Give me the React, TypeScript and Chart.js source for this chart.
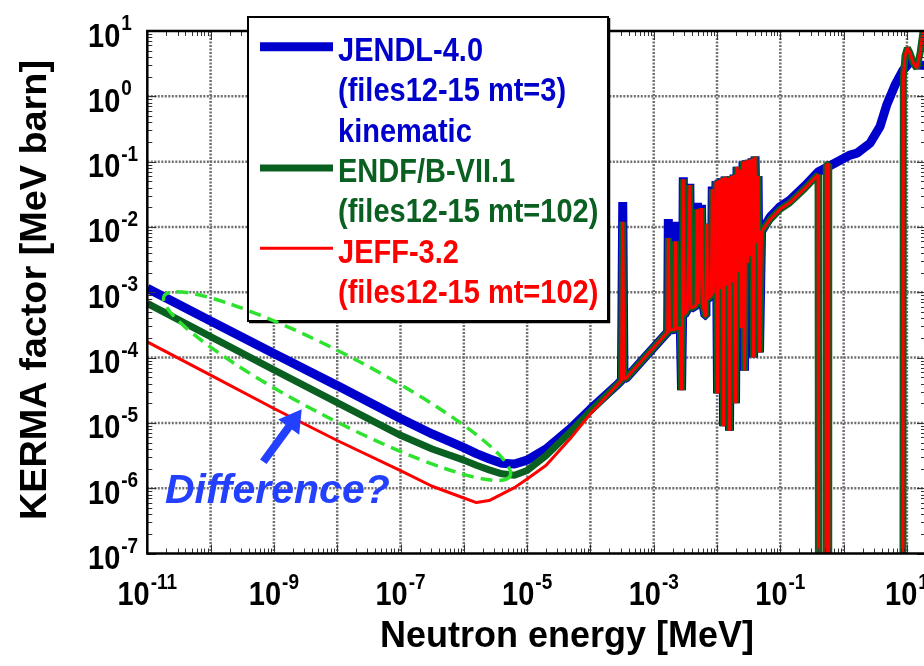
import React, { useEffect, useRef } from 'react';
import { Chart, registerables } from 'chart.js';

Chart.register(...registerables);

// ---------------- DATA ----------------
// Thermal / epithermal region (shared energy grid, MeV)
const thermalEnergy = [1e-11, 1e-10, 1e-9, 1e-8, 1e-7, 3.16e-7, 1e-6, 1.58e-6, 2.51e-6, 3.98e-6, 6.31e-6, 1e-5, 2e-5, 4.8e-5, 1e-4];
const jendlThermal = [1.15e-3, 3.63e-4, 1.15e-4, 3.72e-5, 1.17e-5, 6.76e-6, 4.17e-6, 3.39e-6, 2.82e-6, 2.40e-6, 2.34e-6, 2.69e-6, 3.98e-6, 8.13e-6, 1.62e-5];
const endfThermal = [6.76e-4, 2.09e-4, 6.46e-5, 2.04e-5, 6.46e-6, 3.98e-6, 2.69e-6, 2.24e-6, 1.91e-6, 1.66e-6, 1.58e-6, 1.86e-6, 3.16e-6, 7.24e-6, 1.51e-5];
const jeffThermal = [1.74e-4, 5.37e-5, 1.66e-5, 5.37e-6, 1.86e-6, 1.07e-6, 7.08e-7, 6.03e-7, 6.46e-7, 8.13e-7, 1.02e-6, 1.38e-6, 2.24e-6, 5.75e-6, 1.38e-5];

// Resonance region (shared energy grid, MeV)
const resonanceEnergy = [
  2.75e-4, 3.09e-4, 3.24e-4, 3.39e-4, 3.72e-4, 1.58e-3, 1.66e-3, 1.70e-3, 1.78e-3, 2.14e-3,
  2.21e-3, 2.29e-3, 2.63e-3, 2.75e-3, 2.85e-3, 2.93e-3, 3.02e-3, 3.39e-3, 3.72e-3, 3.85e-3,
  4.68e-3, 4.90e-3, 5.13e-3, 5.69e-3, 5.96e-3, 6.46e-3, 6.68e-3, 6.92e-3, 7.16e-3, 8.13e-3,
  8.41e-3, 8.71e-3, 9.64e-3, 1.019e-2, 1.076e-2, 1.135e-2, 1.20e-2, 1.268e-2, 1.337e-2, 1.413e-2,
  1.493e-2, 1.574e-2, 1.663e-2, 1.758e-2, 1.858e-2, 1.959e-2, 2.07e-2, 2.188e-2, 2.307e-2, 2.438e-2,
  2.576e-2, 2.716e-2, 2.871e-2, 3.034e-2, 3.199e-2, 3.381e-2, 3.573e-2, 3.776e-2, 3.981e-2, 4.207e-2,
  4.446e-2, 4.69e-2, 5.05e-2, 6.87e-2, 9.89e-2, 0.141, 0.245, 0.394,
];
const jendlResonance = [
  3.98e-5, 4.47e-5, 2.40e-2, 4.68e-5, 4.90e-5, 2.34e-4, 2.45e-4, 1.32e-2, 2.63e-4, 2.69e-4,
  1.20e-2, 2.75e-4, 2.88e-4, 3.16e-5, 3.55e-4, 5.75e-2, 4.47e-4, 5.37e-4, 4.57e-2, 5.62e-4,
  6.31e-4, 2.34e-2, 6.61e-4, 2.19e-2, 6.76e-4, 4.37e-4, 7.59e-4, 1.12e-2, 7.94e-4, 8.91e-4,
  4.17e-2, 9.55e-4, 5.01e-2, 2.82e-5, 5.25e-2, 1.12e-3, 5.62e-2, 8.91e-6, 5.89e-2, 1.26e-3,
  5.62e-2, 7.59e-6, 6.03e-2, 1.41e-3, 6.31e-2, 2.0e-5, 8.32e-2, 2.0e-3, 7.59e-2, 2.82e-4,
  0.100, 6.31e-5, 0.105, 2.82e-3, 0.107, 3.55e-3, 0.112, 1.0e-4, 0.120, 5.62e-3,
  6.03e-2, 1.20e-4, 8.51e-3, 1.41e-2, 2.04e-2, 2.57e-2, 4.27e-2, 6.92e-2,
];
const captureResonance = [
  3.98e-5, 4.47e-5, 1.20e-2, 4.68e-5, 4.90e-5, 2.34e-4, 2.45e-4, 6.76e-3, 2.63e-4, 2.69e-4,
  6.03e-3, 2.75e-4, 2.88e-4, 3.16e-5, 3.55e-4, 5.37e-2, 4.47e-4, 5.37e-4, 4.37e-2, 5.62e-4,
  6.31e-4, 1.86e-2, 6.61e-4, 1.95e-2, 6.76e-4, 4.37e-4, 7.59e-4, 1.12e-2, 7.94e-4, 8.91e-4,
  3.80e-2, 9.55e-4, 5.01e-2, 2.82e-5, 5.25e-2, 1.12e-3, 5.62e-2, 8.91e-6, 5.89e-2, 1.26e-3,
  5.62e-2, 7.59e-6, 6.03e-2, 1.41e-3, 6.31e-2, 2.0e-5, 8.32e-2, 2.0e-3, 7.59e-2, 2.82e-4,
  0.100, 6.31e-5, 0.105, 2.82e-3, 0.107, 3.55e-3, 0.112, 1.0e-4, 0.120, 5.62e-3,
  6.03e-2, 1.20e-4, 8.51e-3, 1.29e-2, 1.86e-2, 2.34e-2, 3.89e-2, 6.31e-2,
];

// Fast region
const jendlFastEnergy = [0.733, 1.26, 1.63, 2.61, 3.75, 4.84, 6.47, 8.67, 11.6, 15.0, 20];
const jendlFast = [9.55e-2, 0.126, 0.135, 0.191, 0.343, 0.759, 1.48, 2.51, 3.47, 3.02, 2.95];
const captureFastEnergy = [0.403, 0.525, 0.531, 0.575, 0.582, 8.61, 8.77, 9.33, 10.14, 11.2, 12.6, 14.3, 16.1, 17.8, 20];
const captureFast = [1e-10, 1e-10, 9.0e-2, 9.1e-2, 1e-10, 1e-10, 2.0, 4.17, 5.5, 4.57, 3.24, 2.69, 4.57, 9.33, 12.6];

const X_LABEL_EXPONENTS = [-11, -9, -7, -5, -3, -1, 1];
const Y_LABEL_EXPONENTS = [1, 0, -1, -2, -3, -4, -5, -6, -7];

const X_TITLE = 'Neutron energy [MeV]';
const Y_TITLE = 'KERMA factor [MeV barn]';
const LEGEND_LINES = [
  { text: 'JENDL-4.0', series: 0 },
  { text: '(files12-15 mt=3)', series: 0 },
  { text: 'kinematic', series: 0 },
  { text: 'ENDF/B-VII.1', series: 1 },
  { text: '(files12-15 mt=102)', series: 1 },
  { text: 'JEFF-3.2', series: 2 },
  { text: '(files12-15 mt=102)', series: 2 },
];
const ANNOTATION_TEXT = 'Difference?';

// annotation anchors in data space [energy, kerma]
const ELLIPSE_END_A = [1.84e-11, 8.75e-4];
const ELLIPSE_END_B = [5.37e-6, 1.53e-6];
const ARROW_TAIL = [6.8e-10, 2.54e-6];
const ARROW_TIP = [2.75e-9, 1.61e-5];
const TEXT_ANCHOR = [1.9e-11, 5.9e-7];

// ---------------- STYLE ----------------
const FONT = "'Liberation Sans', Arial, Helvetica, sans-serif";
const BLUE = '#0000cc';
const GREEN = '#0a6020';
const RED = '#ff0000';
const NOTE_BLUE = '#2340ff';
const NOTE_GREEN = '#2fe22f';
const GRID = '#707070';

const pts = (e: number[], k: number[]) => e.map((v, i) => ({ x: v, y: k[i] }));

function fillStretched(ctx: any, text: string, x: number, y: number, sx: number, sy: number) {
  ctx.save();
  ctx.translate(x, y);
  ctx.scale(sx, sy);
  ctx.fillText(text, 0, 0);
  ctx.restore();
}

function drawPower(ctx: any, exp: number, x: number, baseY: number, center: boolean) {
  ctx.textAlign = 'left';
  ctx.textBaseline = 'alphabetic';
  ctx.fillStyle = '#000';
  ctx.font = `bold 29px ${FONT}`;
  const wBase = ctx.measureText('10').width;
  ctx.font = `bold 19px ${FONT}`;
  const sup = String(exp);
  const wSup = ctx.measureText(sup).width;
  const left = center ? x - (wBase + 1 + wSup) / 2 : x;
  ctx.font = `bold 29px ${FONT}`;
  fillStretched(ctx, '10', left, baseY, 1, 1.15);
  ctx.font = `bold 19px ${FONT}`;
  fillStretched(ctx, sup, left + wBase + 1, baseY - 16.5, 1, 1.15);
}

const gridPlugin = {
  id: 'decadeGrid',
  beforeDatasetsDraw(chart: any) {
    const { ctx, chartArea: a, scales } = chart;
    const xs = scales.x;
    const ys = scales.y;
    ctx.save();
    ctx.strokeStyle = GRID;
    ctx.lineWidth = 2.5;
    ctx.setLineDash([2, 1.5]);
    for (let d = -10; d <= 1; d++) {
      const px = xs.getPixelForValue(Math.pow(10, d));
      ctx.beginPath();
      ctx.moveTo(px, a.top);
      ctx.lineTo(px, a.bottom);
      ctx.stroke();
    }
    for (let d = -6; d <= 0; d++) {
      const py = ys.getPixelForValue(Math.pow(10, d));
      ctx.beginPath();
      ctx.moveTo(a.left, py);
      ctx.lineTo(a.right, py);
      ctx.stroke();
    }
    ctx.restore();
  },
};

const decorPlugin = {
  id: 'decor',
  afterDatasetsDraw(chart: any) {
    const { ctx, chartArea: a, scales } = chart;
    const xs = scales.x;
    const ys = scales.y;
    const P = (p: number[]) => ({ x: xs.getPixelForValue(p[0]), y: ys.getPixelForValue(p[1]) });
    ctx.save();

    // ticks (inward)
    ctx.strokeStyle = '#333';
    ctx.lineWidth = 1;
    ctx.setLineDash([]);
    for (let d = -11; d <= 1; d++) {
      for (let m = 1; m <= 9; m++) {
        const v = m * Math.pow(10, d);
        if (v < 1e-11 || v > 20) continue;
        const px = Math.round(xs.getPixelForValue(v)) + 0.5;
        const len = m === 1 ? 9 : 5;
        ctx.beginPath();
        ctx.moveTo(px, a.bottom);
        ctx.lineTo(px, a.bottom - len);
        ctx.moveTo(px, a.top);
        ctx.lineTo(px, a.top + len);
        ctx.stroke();
      }
    }
    for (let d = -7; d <= 1; d++) {
      for (let m = 1; m <= 9; m++) {
        const v = m * Math.pow(10, d);
        if (v < 1e-7 || v > 10) continue;
        const py = Math.round(ys.getPixelForValue(v)) + 0.5;
        const len = m === 1 ? 9 : 5;
        ctx.beginPath();
        ctx.moveTo(a.left, py);
        ctx.lineTo(a.left + len, py);
        ctx.moveTo(a.right, py);
        ctx.lineTo(a.right - len, py);
        ctx.stroke();
      }
    }

    // frame
    ctx.strokeStyle = '#000';
    ctx.lineWidth = 2.5;
    ctx.strokeRect(a.left, a.top, a.right - a.left, a.bottom - a.top);

    // tick labels
    for (const e of X_LABEL_EXPONENTS) {
      drawPower(ctx, e, xs.getPixelForValue(Math.pow(10, e)), 605, true);
    }
    for (const e of Y_LABEL_EXPONENTS) {
      drawPower(ctx, e, 88, ys.getPixelForValue(Math.pow(10, e)) + 15.5, false);
    }

    // axis titles
    ctx.fillStyle = '#000';
    ctx.font = `bold 36px ${FONT}`;
    ctx.textAlign = 'center';
    ctx.textBaseline = 'alphabetic';
    fillStretched(ctx, X_TITLE, 567, 647, 1, 1.05);
    ctx.save();
    ctx.translate(46, 290);
    ctx.rotate(-Math.PI / 2);
    ctx.scale(1.05, 1);
    ctx.fillText(Y_TITLE, 0, 0);
    ctx.restore();

    // legend
    const colors = [BLUE, GREEN, RED];
    const widths = [9, 7, 3];
    const sampleY = [46.7, 168, 248.3];
    ctx.fillStyle = '#fff';
    ctx.fillRect(248, 17, 360, 304);
    ctx.strokeStyle = '#000';
    ctx.lineWidth = 2;
    ctx.strokeRect(248, 17, 360, 304);
    ctx.lineWidth = 1.5;
    ctx.beginPath();
    ctx.moveTo(609.5, 18);
    ctx.lineTo(609.5, 322.5);
    ctx.lineTo(249, 322.5);
    ctx.stroke();
    for (let i = 0; i < 3; i++) {
      ctx.strokeStyle = colors[i];
      ctx.lineWidth = widths[i];
      ctx.beginPath();
      ctx.moveTo(260, sampleY[i]);
      ctx.lineTo(333, sampleY[i]);
      ctx.stroke();
    }
    ctx.font = `bold 29px ${FONT}`;
    ctx.textAlign = 'left';
    LEGEND_LINES.forEach((l, i) => {
      ctx.fillStyle = colors[l.series];
      fillStretched(ctx, l.text, 338, 60.7 + i * 40.4, 1, 1.12);
    });

    // annotation: dashed ellipse
    const e1 = P(ELLIPSE_END_A);
    const e2 = P(ELLIPSE_END_B);
    const cx = (e1.x + e2.x) / 2;
    const cy = (e1.y + e2.y) / 2;
    const semiA = Math.hypot(e2.x - e1.x, e2.y - e1.y) / 2;
    const ang = Math.atan2(e2.y - e1.y, e2.x - e1.x);
    ctx.strokeStyle = NOTE_GREEN;
    ctx.lineWidth = 3.5;
    ctx.setLineDash([12, 7]);
    ctx.beginPath();
    ctx.ellipse(cx, cy, semiA, 32, ang, 0, Math.PI * 2);
    ctx.stroke();
    ctx.setLineDash([]);

    // arrow
    const t = P(ARROW_TAIL);
    const h = P(ARROW_TIP);
    const len = Math.hypot(h.x - t.x, h.y - t.y);
    const ux = (h.x - t.x) / len;
    const uy = (h.y - t.y) / len;
    const nx = -uy;
    const ny = ux;
    const headL = 22;
    const bx = h.x - ux * headL;
    const by = h.y - uy * headL;
    ctx.fillStyle = NOTE_BLUE;
    ctx.beginPath();
    ctx.moveTo(t.x + nx * 4, t.y + ny * 4);
    ctx.lineTo(bx + nx * 4, by + ny * 4);
    ctx.lineTo(bx + nx * 13, by + ny * 13);
    ctx.lineTo(h.x, h.y);
    ctx.lineTo(bx - nx * 13, by - ny * 13);
    ctx.lineTo(bx - nx * 4, by - ny * 4);
    ctx.lineTo(t.x - nx * 4, t.y - ny * 4);
    ctx.closePath();
    ctx.fill();

    // annotation text
    const tp = P(TEXT_ANCHOR);
    ctx.font = `italic bold 41px ${FONT}`;
    ctx.textAlign = 'left';
    ctx.fillStyle = NOTE_BLUE;
    ctx.fillText(ANNOTATION_TEXT, tp.x, tp.y);

    ctx.restore();
  },
};

export default function App() {
  const ref = useRef<HTMLCanvasElement>(null);
  useEffect(() => {
    const canvas = ref.current;
    if (!canvas) return;
    const common = { pointRadius: 0, tension: 0, borderJoinStyle: 'bevel', borderCapStyle: 'butt', fill: false };
    const chart = new Chart(canvas, {
      type: 'line',
      data: {
        datasets: [
          {
            ...common,
            label: 'JENDL-4.0 (files12-15 mt=3) kinematic',
            data: [
              ...pts(thermalEnergy, jendlThermal),
              ...pts(resonanceEnergy, jendlResonance),
              ...pts(jendlFastEnergy, jendlFast),
            ],
            borderColor: BLUE,
            borderWidth: 9,
            order: 3,
          },
          {
            ...common,
            label: 'ENDF/B-VII.1 (files12-15 mt=102)',
            data: [
              ...pts(thermalEnergy, endfThermal),
              ...pts(resonanceEnergy, captureResonance),
              ...pts(captureFastEnergy, captureFast),
            ],
            borderColor: GREEN,
            borderWidth: 7,
            order: 2,
          },
          {
            ...common,
            label: 'JEFF-3.2 (files12-15 mt=102)',
            data: [
              ...pts(thermalEnergy, jeffThermal),
              ...pts(resonanceEnergy, captureResonance),
              ...pts(captureFastEnergy, captureFast),
            ],
            borderColor: RED,
            borderWidth: 3,
            order: 1,
          },
        ],
      } as any,
      options: {
        animation: false,
        responsive: false,
        devicePixelRatio: 1,
        layout: { padding: { left: 147.3, right: 14, top: 31, bottom: 112.5 } },
        plugins: { legend: { display: false }, tooltip: { enabled: false } },
        scales: {
          x: {
            type: 'logarithmic',
            min: 1e-11,
            max: 20,
            ticks: { display: false },
            grid: { display: false, drawTicks: false },
            border: { display: false },
          },
          y: {
            type: 'logarithmic',
            min: 1e-7,
            max: 10,
            ticks: { display: false },
            grid: { display: false, drawTicks: false },
            border: { display: false },
          },
        },
      } as any,
      plugins: [gridPlugin, decorPlugin],
    });
    return () => chart.destroy();
  }, []);
  return (
    <div style={{ position: 'fixed', left: 0, top: 0, width: 924, height: 666, overflow: 'hidden', background: '#fff' }}>
      <canvas ref={ref} width={940} height={666} style={{ display: 'block', width: 940, height: 666 }} />
    </div>
  );
}
